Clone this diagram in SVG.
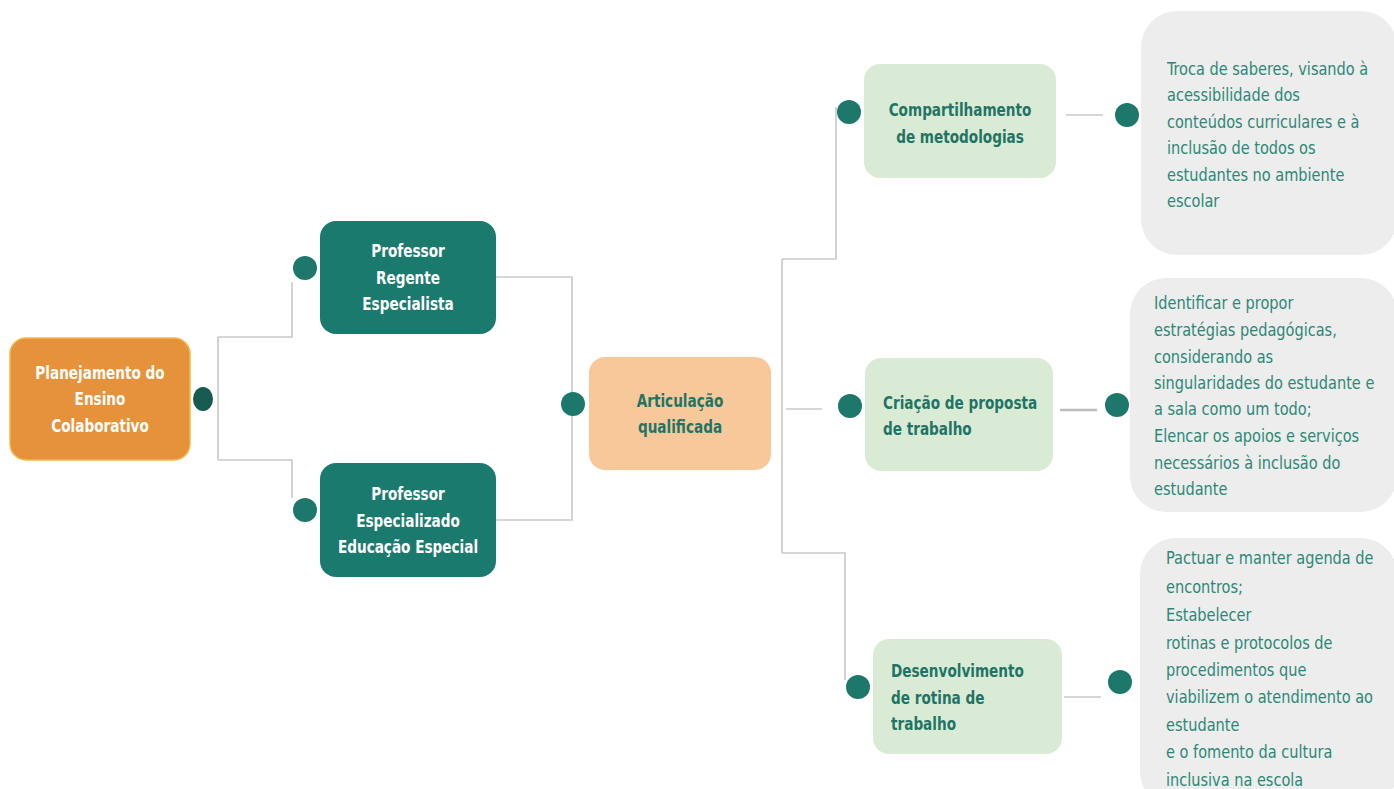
<svg xmlns="http://www.w3.org/2000/svg" width="1394" height="789" viewBox="0 0 1394 789">
  <style>
    .t { font-family: "DejaVu Sans Condensed", "Liberation Sans Narrow", "Liberation Sans", sans-serif; dominant-baseline: central; }
    .b { font-weight: bold; font-size: 17px; }
    .c { text-anchor: middle; }
    .w { fill: #ffffff; }
    .g { fill: #1f7466; }
    .d { font-size: 17px; fill: #2c8876; }
    .conn { fill: none; stroke: #c9c9c9; stroke-width: 1.6; }
    .dot { fill: #1d786b; }
    .dark { fill: #1b7a6e; }
    .light { fill: #d9ebd4; }
    .note { fill: #ededed; }
  </style>
  <rect width="1394" height="789" fill="#ffffff"/>

  <!-- connectors -->
  <g id="connectors">
    <path class="conn" d="M218,337 V460 M218,337 H292 V282 M218,460 H292 V498"/>
    <path class="conn" d="M496,277 H572 V520 H496"/>
    <path class="conn" d="M782,259 V553 M782,259 H836 V107 M782,553 H845 V680 M786,409 H822"/>
    <path class="conn" d="M1066,115 H1103"/>
    <path d="M1060,410 H1097" stroke="#bdbdbd" stroke-width="2.6" fill="none"/>
    <path class="conn" d="M1064,697 H1101"/>
  </g>

  <!-- root -->
  <g id="planejamento">
    <rect x="10" y="338" width="180" height="122" rx="16" fill="#e6923a" stroke="#f3b949" stroke-width="1.5"/>
    <g transform="translate(100,0) scale(0.89,1)">
      <text class="t b c w" x="0" y="373">Planejamento do</text>
      <text class="t b c w" x="0" y="399">Ensino</text>
      <text class="t b c w" x="0" y="426">Colaborativo</text>
    </g>
    <ellipse cx="203" cy="399" rx="10" ry="12" fill="#155b50"/>
  </g>

  <g id="professor-regente">
    <circle class="dot" cx="305" cy="268" r="12"/>
    <rect class="dark" x="320" y="221" width="176" height="113" rx="16"/>
    <g transform="translate(408,0) scale(0.89,1)">
      <text class="t b c w" x="0" y="251">Professor</text>
      <text class="t b c w" x="0" y="278">Regente</text>
      <text class="t b c w" x="0" y="304">Especialista</text>
    </g>
  </g>

  <g id="professor-especializado">
    <circle class="dot" cx="305" cy="510" r="12"/>
    <rect class="dark" x="320" y="463" width="176" height="114" rx="16"/>
    <g transform="translate(408,0) scale(0.89,1)">
      <text class="t b c w" x="0" y="494">Professor</text>
      <text class="t b c w" x="0" y="521">Especializado</text>
      <text class="t b c w" x="0" y="547">Educação Especial</text>
    </g>
  </g>

  <g id="articulacao">
    <circle class="dot" cx="573" cy="404" r="12"/>
    <rect x="589" y="357" width="182" height="113" rx="16" fill="#f7c99a"/>
    <g transform="translate(680,0) scale(0.89,1)">
      <text class="t b c g" x="0" y="401">Articulação</text>
      <text class="t b c g" x="0" y="427">qualificada</text>
    </g>
  </g>

  <g id="compartilhamento">
    <circle class="dot" cx="849" cy="112" r="12"/>
    <rect class="light" x="864" y="64" width="192" height="114" rx="16"/>
    <g transform="translate(960,0) scale(0.89,1)">
      <text class="t b c g" x="0" y="110">Compartilhamento</text>
      <text class="t b c g" x="0" y="137">de metodologias</text>
    </g>
  </g>

  <g id="criacao">
    <circle class="dot" cx="850" cy="406" r="12"/>
    <rect class="light" x="865" y="358" width="188" height="113" rx="16"/>
    <g transform="translate(883,0) scale(0.89,1)">
      <text class="t b g" x="0" y="403">Criação de proposta</text>
      <text class="t b g" x="0" y="429">de trabalho</text>
    </g>
  </g>

  <g id="desenvolvimento">
    <circle class="dot" cx="858" cy="687" r="12"/>
    <rect class="light" x="873" y="639" width="189" height="115" rx="16"/>
    <g transform="translate(891,0) scale(0.89,1)">
      <text class="t b g" x="0" y="671">Desenvolvimento</text>
      <text class="t b g" x="0" y="698">de rotina de</text>
      <text class="t b g" x="0" y="724">trabalho</text>
    </g>
  </g>

  <g id="nota-compartilhamento">
    <circle class="dot" cx="1127" cy="115" r="12"/>
    <rect class="note" x="1141" y="11" width="256" height="244" rx="36"/>
    <g transform="translate(1167,0) scale(0.95,1)">
      <text class="t d" x="0" y="69">Troca de saberes, visando à</text>
      <text class="t d" x="0" y="95.5">acessibilidade dos</text>
      <text class="t d" x="0" y="122">conteúdos curriculares e à</text>
      <text class="t d" x="0" y="148.5">inclusão de todos os</text>
      <text class="t d" x="0" y="175">estudantes no ambiente</text>
      <text class="t d" x="0" y="201">escolar</text>
    </g>
  </g>

  <g id="nota-criacao">
    <circle class="dot" cx="1117" cy="405" r="12"/>
    <rect class="note" x="1130" y="278" width="267" height="234" rx="36"/>
    <g transform="translate(1154,0) scale(0.95,1)">
      <text class="t d" x="0" y="303">Identificar e propor</text>
      <text class="t d" x="0" y="330">estratégias pedagógicas,</text>
      <text class="t d" x="0" y="357">considerando as</text>
      <text class="t d" x="0" y="383">singularidades do estudante e</text>
      <text class="t d" x="0" y="409">a sala como um todo;</text>
      <text class="t d" x="0" y="436">Elencar os apoios e serviços</text>
      <text class="t d" x="0" y="463">necessários à inclusão do</text>
      <text class="t d" x="0" y="489">estudante</text>
    </g>
  </g>

  <g id="nota-desenvolvimento">
    <circle class="dot" cx="1120" cy="682" r="12"/>
    <rect class="note" x="1140" y="538" width="257" height="270" rx="36"/>
    <g transform="translate(1166,0) scale(0.95,1)">
      <text class="t d" x="0" y="558">Pactuar e manter agenda de</text>
      <text class="t d" x="0" y="587">encontros;</text>
      <text class="t d" x="0" y="615">Estabelecer</text>
      <text class="t d" x="0" y="643">rotinas e protocolos de</text>
      <text class="t d" x="0" y="670">procedimentos que</text>
      <text class="t d" x="0" y="697">viabilizem o atendimento ao</text>
      <text class="t d" x="0" y="725">estudante</text>
      <text class="t d" x="0" y="752">e o fomento da cultura</text>
      <text class="t d" x="0" y="780">inclusiva na escola</text>
    </g>
  </g>
</svg>
